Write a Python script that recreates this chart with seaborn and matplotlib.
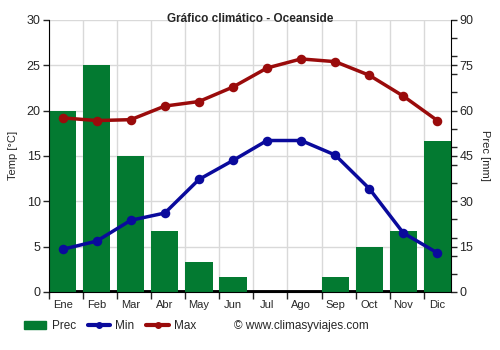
import matplotlib
matplotlib.use("Agg")
import matplotlib.pyplot as plt
import seaborn as sns
import numpy as np
from matplotlib.lines import Line2D
from matplotlib.patches import Patch

months = ["Ene", "Feb", "Mar", "Abr", "May", "Jun", "Jul", "Ago", "Sep", "Oct", "Nov", "Dic"]
prec = [60, 75, 45, 20, 10, 5, 0, 0, 5, 15, 20, 50]
tmin = [4.7, 5.6, 7.9, 8.7, 12.4, 14.5, 16.7, 16.7, 15.1, 11.4, 6.5, 4.3]
tmax = [19.2, 18.9, 19.0, 20.5, 21.0, 22.6, 24.7, 25.7, 25.4, 23.9, 21.6, 18.9]
temp_ticks = [0, 5, 10, 15, 20, 25, 30]
prec_ticks = [0, 15, 30, 45, 60, 75, 90]

sns.set_style("white")
plt.rcParams['font.family'] = ['Liberation Sans', 'DejaVu Sans']

GREEN = "#037a31"
BLUE = "#0a0a9c"
RED = "#9a0b0b"
GRID = "#d9d9d9"

fig = plt.figure(figsize=(5, 3.5), dpi=100)
ax = fig.add_axes([0.098, 0.166, 0.804, 0.777])  # precip axis (drawn first, behind)
sns.barplot(x=months, y=prec, order=months, color=GREEN, width=0.8, saturation=1, ax=ax,
            zorder=2, linewidth=0, edgecolor="none")
ax.set_ylim(0, 90)
ax.set_xlim(-0.4, 11.4)
bounds = np.arange(12) - 0.4
for xb in bounds:
    ax.axvline(xb, color=GRID, lw=1, zorder=0)
for t in temp_ticks:
    ax.axhline(t * 3, color=GRID, lw=1, zorder=0)
ax.axhline(0, color="black", lw=3.5, zorder=1)
ax.set_xlabel("")

ax2 = ax.twinx()
sns.pointplot(x=months, y=tmax, order=months, color=RED, markers="o", markersize=5, linewidth=2.5, ax=ax2)
sns.pointplot(x=months, y=tmin, order=months, color=BLUE, markers="o", markersize=5, linewidth=2.5, ax=ax2)
ax2.set_ylim(0, 30)
ax2.set_xlim(-0.4, 11.4)
ax2.set_xlabel("")
ax2.grid(False)

# precip axis on the right
ax.yaxis.tick_right()
ax.yaxis.set_label_position("right")
ax.set_yticks(prec_ticks)
ax.set_yticklabels([str(v) for v in prec_ticks])
ax.set_yticks([v for v in range(0, 91, 6) if v not in prec_ticks], minor=True)
ax.tick_params(axis='y', which='major', length=4, width=1, labelsize=9, right=True, left=False,
               labelright=True, labelleft=False, direction='out', pad=2)
ax.tick_params(axis='y', which='minor', length=4, width=1, right=True, left=False, direction='out')
ax.set_ylabel("Prec [mm]", rotation=270, labelpad=12, fontsize=8)
ax.set_xticks(np.arange(12))
ax.set_xticklabels(months, fontsize=8)
ax.tick_params(axis='x', which='major', length=0, pad=6)
ax.set_xticks(bounds, minor=True)
ax.tick_params(axis='x', which='minor', length=5, width=1, bottom=True, direction='out')
ax.spines["top"].set_visible(False)
ax.spines["left"].set_visible(False)
ax.spines["right"].set_color("black")
ax.spines["bottom"].set_color("black")

# temp axis on the left
ax2.yaxis.tick_left()
ax2.yaxis.set_label_position("left")
ax2.set_yticks(temp_ticks)
ax2.set_yticklabels([str(v) for v in temp_ticks])
ax2.tick_params(axis='y', length=4, width=1, labelsize=9, left=True, right=False,
                labelleft=True, labelright=False, direction='out', pad=2)
ax2.set_ylabel("Temp [°C]", fontsize=8, labelpad=6)
ax2.spines["top"].set_visible(False)
ax2.spines["right"].set_visible(False)
ax2.spines["left"].set_color("black")
ax2.spines["bottom"].set_visible(False)
ax2.tick_params(axis='x', which='both', length=0, labelbottom=False)

fig.suptitle("Gráfico climático - Oceanside", fontsize=8.5, fontweight="bold", y=0.962)

handles = [
    Patch(facecolor=GREEN, edgecolor=GREEN),
    Line2D([0], [0], color=BLUE, lw=3, marker="o", markersize=4),
    Line2D([0], [0], color=RED, lw=3, marker="o", markersize=4),
]
fig.legend(handles, ["Prec", "Min", "Max"], loc="center left", bbox_to_anchor=(0.048, 0.068),
           ncol=3, frameon=False, fontsize=8.5, handlelength=1.9, columnspacing=1.0,
           handletextpad=0.45, borderpad=0, borderaxespad=0)
fig.text(0.468, 0.068, "© www.climasyviajes.com", fontsize=8.5, va="center")

fig.savefig("out.png", dpi=100)
